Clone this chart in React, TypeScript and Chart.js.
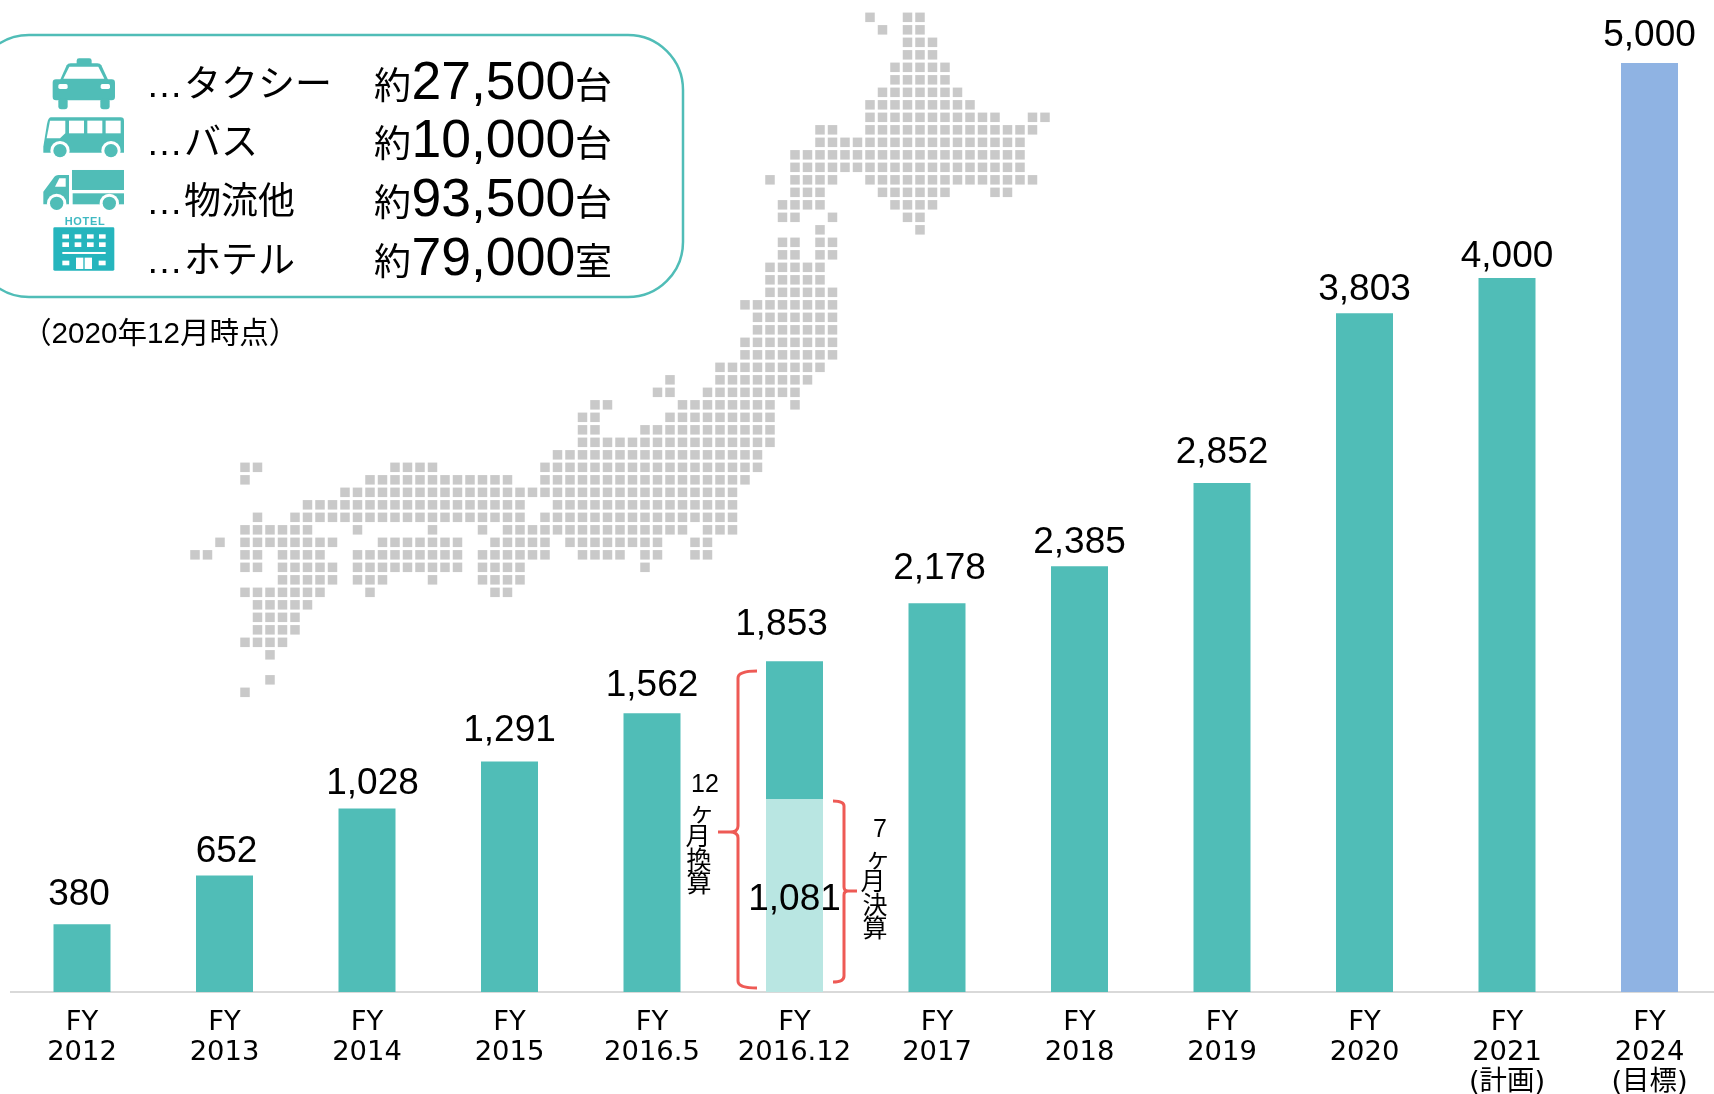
import React, { useEffect, useRef } from "react";
import { Chart, registerables } from "chart.js";

Chart.register(...registerables);

// ---- data ----
const categories: string[][] = [
  ["FY", "2012"], ["FY", "2013"], ["FY", "2014"], ["FY", "2015"], ["FY", "2016.5"], ["FY", "2016.12"],
  ["FY", "2017"], ["FY", "2018"], ["FY", "2019"], ["FY", "2020"], ["FY", "2021", "(計画)"], ["FY", "2024", "(目標)"],
];
// Printed values above each bar.
const printedValues = [380, 652, 1028, 1291, 1562, 1853, 2178, 2385, 2852, 3803, 4000, 5000];
const sevenMonthValue = 1081;
// Bar heights as drawn: in the source, the FY2024 target bar stands taller (about 5205 on the
// scale of the other bars) than its printed 5,000; FY2016.12 is split 1081 + 772.
const lowerBars = [380, 652, 1028, 1291, 1562, 1081, 2178, 2385, 2852, 3803, 4000, 5205];
const upperBars = [0, 0, 0, 0, 0, 772, 0, 0, 0, 0, 0, 0];

// Dot map of Japan: [grid row, [first column, last column], ...].
const mapRows: [number, ...[number, number][]][] = [
  [0, [8, 8], [11, 12]], [1, [9, 9], [11, 12]], [2, [11, 13]], [3, [11, 13]], [4, [10, 14]], [5, [10, 14]],
  [6, [9, 15]], [7, [8, 16]], [8, [8, 18], [21, 22]], [9, [4, 5], [8, 21]], [10, [4, 20]], [11, [2, 20]],
  [12, [2, 20]], [13, [0, 0], [2, 5], [8, 21]], [14, [2, 4], [9, 14], [18, 19]], [15, [1, 4], [10, 13]],
  [16, [1, 2], [5, 5], [11, 12]], [17, [4, 4], [12, 12]], [18, [1, 2], [4, 5]], [19, [1, 2], [4, 5]],
  [20, [0, 4]], [21, [0, 4]], [22, [0, 5]], [23, [-2, 5]], [24, [-1, 5]], [25, [-1, 5]], [26, [-2, 5]],
  [27, [-2, 5]], [28, [-4, 4]], [29, [-8, -8], [-4, 3]], [30, [-9, -8], [-5, 2]],
  [31, [-14, -13], [-7, 0], [2, 2]], [32, [-15, -14], [-8, 0]], [33, [-15, -14], [-10, 0]], [34, [-15, 0]],
  [35, [-17, -1]], [36, [-42, -41], [-30, -27], [-18, -1]], [37, [-42, -42], [-32, -21], [-18, -2]],
  [38, [-34, -3]], [39, [-37, -20], [-17, -3]], [40, [-41, -41], [-38, -20], [-18, -3]],
  [41, [-42, -37], [-33, -33], [-27, -27], [-23, -23], [-21, -7], [-5, -3]],
  [42, [-44, -44], [-42, -35], [-31, -25], [-22, -18], [-16, -9], [-6, -5]],
  [43, [-46, -45], [-42, -41], [-39, -36], [-33, -25], [-23, -18], [-15, -12], [-10, -9], [-6, -5]],
  [44, [-42, -41], [-39, -35], [-33, -25], [-23, -20], [-10, -10]],
  [45, [-39, -35], [-33, -31], [-27, -27], [-23, -20]], [46, [-42, -36], [-32, -32], [-22, -21]],
  [47, [-41, -37]], [48, [-41, -38]], [49, [-41, -38]], [50, [-42, -39]], [51, [-40, -40]],
  [53, [-40, -40]], [54, [-42, -42]],
];

const legendNames = ["タクシー", "バス", "物流他", "ホテル"];
const legendCounts = ["27,500", "10,000", "93,500", "79,000"];
const legendUnits = ["台", "台", "台", "室"];
const legendNote = "（2020年12月時点）";

// ---- layout and style ----
const CANVAS_W = 1740;
const CANVAS_H = 1094;
const PLOT_LEFT = 10.75;
const PLOT_RIGHT = 1720.75;
const PLOT_BOTTOM = 992;
const PX_PER_UNIT = 0.1785;
const CELL = 12.5;
const MAP_X0 = 770;
const MAP_Y0 = 17.33;
const TEAL = "#50bdb7";
const LIGHT = "#b9e6e2";
const BLUE = "#8fb3e3";
const RED = "#ee5a55";
const LATIN = '"Liberation Sans", "Noto Sans CJK JP", sans-serif';
const TICK_FONT = '"DejaVu Sans", "Noto Sans CJK JP", sans-serif';
// Hand placement of the value labels in the source: [horizontal shift, gap above the bar].
const labelPlacement: [number, number][] = [
  [-3, 19], [2, 14], [5.5, 14.5], [0, 21], [0, 17], [-13, 26], [2.5, 24], [0, 13], [0, 19.5], [0, 13], [0, 11], [0, 17],
];

const mapPoints = mapRows.flatMap(([row, ...spans]) =>
  spans.flatMap(([a, b]) => {
    const pts: { x: number; y: number }[] = [];
    for (let c = a; c <= b; c++) pts.push({ x: c, y: row });
    return pts;
  })
);

const valueLabels = {
  id: "valueLabels",
  afterDatasetsDraw(chart: any) {
    const { ctx, scales } = chart;
    ctx.save();
    ctx.fillStyle = "#000";
    ctx.font = `37px ${LATIN}`;
    ctx.textAlign = "center";
    ctx.textBaseline = "alphabetic";
    printedValues.forEach((v, i) => {
      const top = lowerBars[i] + upperBars[i];
      const [dx, gap] = labelPlacement[i];
      ctx.fillText(v.toLocaleString("en-US"), scales.x.getPixelForValue(i) + dx, scales.y.getPixelForValue(top) - gap);
    });
    ctx.fillText(sevenMonthValue.toLocaleString("en-US"), scales.x.getPixelForValue(5), scales.y.getPixelForValue(sevenMonthValue / 2) + 14);
    ctx.restore();
  },
};

function Wheel({ x, y }: { x: number; y: number }) {
  return (
    <g>
      <circle cx={x} cy={y} r={29} fill="#fff" />
      <circle cx={x} cy={y} r={20} fill={TEAL} />
    </g>
  );
}

function Icons() {
  const win = [187, 224, 261, 297];
  return (
    <g transform="translate(0,30) scale(0.3333)">
      {/* taxi */}
      <rect x={230} y={85} width={45} height={22} rx={7} fill={TEAL} />
      <path d="M178,155 L200,106 Q203,100 212,100 L292,100 Q301,100 304,106 L327,155 Z" fill={TEAL} />
      <path d="M190,146 L208,110 L295,110 L313,146 Z" fill="#fff" />
      <rect x={158} y={148} width={187} height={63} rx={10} fill={TEAL} />
      <rect x={175} y={205} width={28} height={33} rx={9} fill={TEAL} />
      <rect x={301} y={205} width={28} height={33} rx={9} fill={TEAL} />
      <rect x={175} y={162} width={28} height={15} rx={5} fill="#fff" />
      <rect x={302} y={162} width={28} height={15} rx={5} fill="#fff" />
      {/* bus */}
      <path d="M152,262 L362,262 Q372,262 372,272 L372,368 L130,368 L130,350 L141,282 Q145,262 152,262 Z" fill={TEAL} />
      <path d="M150,272 L196,272 L196,310 L180,325 L140,325 Z" fill="#fff" />
      <rect x={207} y={272} width={45} height={38} fill="#fff" />
      <rect x={262} y={272} width={45} height={38} fill="#fff" />
      <rect x={317} y={272} width={45} height={38} fill="#fff" />
      <Wheel x={180} y={362} />
      <Wheel x={333} y={362} />
      {/* truck */}
      <rect x={216} y={420} width={156} height={60} fill={TEAL} />
      <rect x={218} y={490} width={154} height={33} fill={TEAL} />
      <path d="M130,523 L130,485 L160,445 Q166,435 176,435 L207,435 L207,523 Z" fill={TEAL} />
      <path d="M165,470 L178,445 L197,445 L197,470 Z" fill="#fff" />
      <Wheel x={170} y={520} />
      <Wheel x={328} y={520} />
      {/* hotel */}
      <text x={255} y={584} textAnchor="middle" fontSize={33} fontWeight={700} fill="#3fb9c2" fontFamily={LATIN} letterSpacing={2}>HOTEL</text>
      <rect x={160} y={592} width={183} height={130} rx={4} fill="#25b5bd" />
      {win.map((x) => (
        <g key={x}>
          <rect x={x} y={613} width={20} height={13} fill="#fff" />
          <rect x={x} y={637} width={20} height={14} fill="#fff" />
        </g>
      ))}
      <rect x={187} y={666} width={130} height={6} fill="#fff" />
      <rect x={187} y={692} width={21} height={14} fill="#fff" />
      <rect x={296} y={692} width={21} height={14} fill="#fff" />
      <rect x={228} y={683} width={22} height={34} fill="#fff" />
      <rect x={254} y={683} width={22} height={34} fill="#fff" />
    </g>
  );
}

function Overlay() {
  const nameBaselines = [97.3, 155, 213.5, 272.5];
  const countBaselines = [98.5, 157, 216, 274.5];
  const left: [string, number, number][] = [["12", 705, 792], ["ヶ", 702, 821], ["月", 698, 845], ["換", 699, 869], ["算", 699, 892]];
  const right: [string, number, number][] = [["7", 880, 837], ["ヶ", 878, 867], ["月", 873, 890], ["決", 875, 914], ["算", 875, 937]];
  return (
    <svg width={1714} height={1094} style={{ position: "absolute", left: 0, top: 0 }} fontFamily={LATIN}>
      <rect x={-26} y={35} width={709} height={262} rx={55} fill="none" stroke={TEAL} strokeWidth={2.5} />
      <Icons />
      {legendNames.map((name, i) => (
        <text key={name} fontSize={37} fill="#000">
          <tspan x={146} y={nameBaselines[i]}>…</tspan>
          <tspan x={184} y={nameBaselines[i]}>{name}</tspan>
          <tspan x={374} y={countBaselines[i]}>約</tspan>
          <tspan x={411.5} y={countBaselines[i]} fontSize={53.5}>{legendCounts[i]}</tspan>
          <tspan x={575} y={countBaselines[i]}>{legendUnits[i]}</tspan>
        </text>
      ))}
      <text x={22} y={343} fontSize={29.6} fill="#000">{legendNote}</text>
      <path d="M757,671 Q738,671 738,678 L738,826 Q738,832 730,832 L718,832 M730,832 Q738,832 738,838 L738,981 Q738,988 757,988" fill="none" stroke={RED} strokeWidth={3} />
      <path d="M833,801 Q844,801 844,806 L844,887 Q844,891 848,891 L857,891 M848,891 Q844,891 844,895 L844,976 Q844,982 833,982" fill="none" stroke={RED} strokeWidth={3} />
      {left.concat(right).map(([t, x, y], i) => (
        <text key={i} x={x} y={y} fontSize={25} textAnchor="middle" fill="#000">{t}</text>
      ))}
    </svg>
  );
}

export default function App() {
  const ref = useRef<HTMLCanvasElement | null>(null);

  useEffect(() => {
    if (!ref.current) return;
    const yMax = PLOT_BOTTOM / PX_PER_UNIT;
    const chart = new Chart(ref.current, {
      type: "bar",
      data: {
        labels: categories as any,
        datasets: [
          {
            label: "results",
            data: lowerBars,
            backgroundColor: lowerBars.map((_, i) => (i === 5 ? LIGHT : i === 11 ? BLUE : TEAL)),
            grouped: false,
            barPercentage: 0.4,
            categoryPercentage: 1,
            order: 1,
          },
          {
            label: "12-month conversion",
            data: upperBars,
            backgroundColor: TEAL,
            grouped: false,
            barPercentage: 0.4,
            categoryPercentage: 1,
            order: 1,
          },
          {
            label: "map",
            type: "scatter",
            data: mapPoints,
            xAxisID: "mapX",
            yAxisID: "mapY",
            pointStyle: "rect",
            pointRadius: 6.72,
            pointBorderWidth: 0,
            backgroundColor: "#c9c9c9",
            order: 5,
            clip: false,
          } as any,
        ],
      },
      plugins: [valueLabels],
      options: {
        animation: false,
        responsive: false,
        events: [],
        layout: { autoPadding: false, padding: { left: PLOT_LEFT, right: CANVAS_W - PLOT_RIGHT, top: 0, bottom: 0 } },
        plugins: { legend: { display: false }, tooltip: { enabled: false } },
        scales: {
          x: {
            type: "category",
            stacked: true,
            offset: true,
            grid: { display: false, drawTicks: false },
            border: { color: "#d9d9d9", width: 2 },
            afterFit(scale: any) {
              scale.height = CANVAS_H - PLOT_BOTTOM;
            },
            ticks: {
              autoSkip: false,
              maxRotation: 0,
              minRotation: 0,
              padding: 16,
              color: "#000",
              font: { family: TICK_FONT, size: 27.4, lineHeight: 30 / 27.4 },
            },
          },
          y: { display: false, stacked: true, min: 0, max: yMax },
          mapX: {
            type: "linear",
            axis: "x",
            offset: false,
            display: false,
            min: (PLOT_LEFT - MAP_X0) / CELL,
            max: (PLOT_RIGHT - MAP_X0) / CELL,
          },
          mapY: {
            type: "linear",
            axis: "y",
            offset: false,
            display: false,
            reverse: true,
            min: -MAP_Y0 / CELL,
            max: (PLOT_BOTTOM - MAP_Y0) / CELL,
          },
        },
      } as any,
    });
    return () => chart.destroy();
  }, []);

  return (
    <div style={{ position: "absolute", left: 0, top: 0, width: 1714, height: 1094, overflow: "hidden", background: "#fff" }}>
      <canvas ref={ref} width={CANVAS_W} height={CANVAS_H} style={{ display: "block", width: CANVAS_W, height: CANVAS_H }} />
      <Overlay />
    </div>
  );
}
